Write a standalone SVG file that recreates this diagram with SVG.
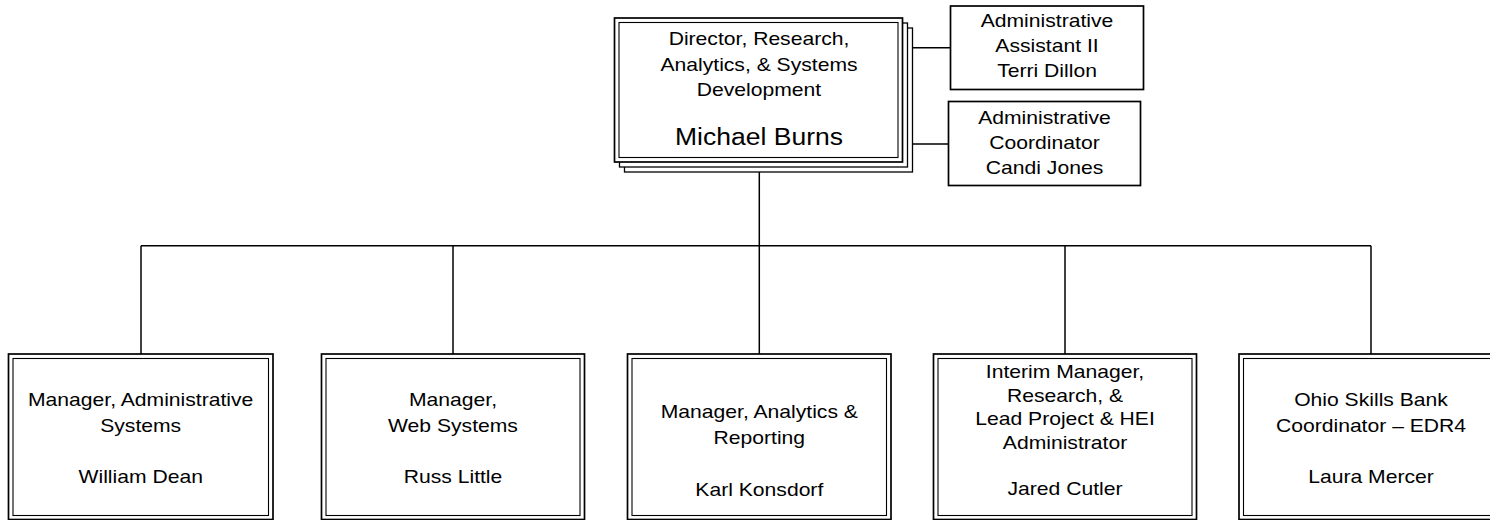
<svg xmlns="http://www.w3.org/2000/svg" width="1490" height="520" viewBox="0 0 1490 520">
<style>
.bg{fill:#fff}
.ln{fill:none;stroke:#000;stroke-width:1.5}
.lni{fill:none;stroke:#000;stroke-width:1.1}
.box{fill:#fff;stroke:#000;stroke-width:1.7}
.sh{fill:#fff;stroke:#000;stroke-width:1.3}
text{font-family:"Liberation Sans",Arial,sans-serif;fill:#000;text-anchor:middle}
.s{font-size:18.7px}
.l{font-size:24.1px}
</style>
<rect class="bg" x="0" y="0" width="1490" height="520"/>
<g id="connectors">
<line class="ln" x1="759.3" y1="172" x2="759.3" y2="245.7"/>
<line class="ln" x1="141" y1="245.7" x2="1371" y2="245.7"/>
<line class="ln" x1="141" y1="245.7" x2="141" y2="354"/>
<line class="ln" x1="453" y1="245.7" x2="453" y2="354"/>
<line class="ln" x1="759.3" y1="245.7" x2="759.3" y2="354"/>
<line class="ln" x1="1065" y1="245.7" x2="1065" y2="354"/>
<line class="ln" x1="1371" y1="245.7" x2="1371" y2="354"/>
<line class="ln" x1="908" y1="47.7" x2="950.5" y2="47.7"/>
<polyline class="ln" points="905,137 905,144 948.5,144"/>
</g>
<g id="director">
<rect class="sh" x="624.5" y="28" width="288" height="144"/>
<rect class="sh" x="619.5" y="23" width="288" height="144"/>
<rect class="box" x="614.5" y="18" width="288" height="144"/>
<rect class="lni" x="619" y="22.5" width="279" height="135"/>
<text class="s" transform="translate(759 45) scale(1.13 1)">Director, Research,</text>
<text class="s" transform="translate(759 70.5) scale(1.13 1)">Analytics, &amp; Systems</text>
<text class="s" transform="translate(759 95.5) scale(1.13 1)">Development</text>
<text class="l" transform="translate(759 145) scale(1.1 1)">Michael Burns</text>
</g>
<g id="admin-assistant">
<rect class="box" x="950.5" y="6" width="193" height="83.5"/>
<text class="s" transform="translate(1047 27) scale(1.13 1)">Administrative</text>
<text class="s" transform="translate(1047 52) scale(1.13 1)">Assistant II</text>
<text class="s" transform="translate(1047 77) scale(1.13 1)">Terri Dillon</text>
</g>
<g id="admin-coordinator">
<rect class="box" x="948.5" y="101.5" width="192" height="84"/>
<text class="s" transform="translate(1044.5 124) scale(1.13 1)">Administrative</text>
<text class="s" transform="translate(1044.5 149) scale(1.13 1)">Coordinator</text>
<text class="s" transform="translate(1044.5 174) scale(1.13 1)">Candi Jones</text>
</g>
<g id="admin-systems">
<rect class="box" x="8.5" y="354" width="264.5" height="165.5"/>
<rect class="lni" x="13" y="358.5" width="255.5" height="157"/>
<text class="s" transform="translate(140.7 406) scale(1.13 1)">Manager, Administrative</text>
<text class="s" transform="translate(140.7 431.5) scale(1.13 1)">Systems</text>
<text class="s" transform="translate(140.7 483) scale(1.13 1)">William Dean</text>
</g>
<g id="web-systems">
<rect class="box" x="321.5" y="354" width="263" height="165.5"/>
<rect class="lni" x="326" y="358.5" width="254" height="157"/>
<text class="s" transform="translate(453 406) scale(1.13 1)">Manager,</text>
<text class="s" transform="translate(453 431.5) scale(1.13 1)">Web Systems</text>
<text class="s" transform="translate(453 483) scale(1.13 1)">Russ Little</text>
</g>
<g id="analytics">
<rect class="box" x="627.5" y="354" width="263.5" height="165.5"/>
<rect class="lni" x="632" y="358.5" width="254.5" height="157"/>
<text class="s" transform="translate(759.3 418) scale(1.13 1)">Manager, Analytics &amp;</text>
<text class="s" transform="translate(759.3 443.5) scale(1.13 1)">Reporting</text>
<text class="s" transform="translate(759.3 496) scale(1.13 1)">Karl Konsdorf</text>
</g>
<g id="research">
<rect class="box" x="933.5" y="354" width="263" height="165.5"/>
<rect class="lni" x="938" y="358.5" width="254" height="157"/>
<text class="s" transform="translate(1065 378) scale(1.13 1)">Interim Manager,</text>
<text class="s" transform="translate(1065 401.5) scale(1.13 1)">Research, &amp;</text>
<text class="s" transform="translate(1065 425) scale(1.13 1)">Lead Project &amp; HEI</text>
<text class="s" transform="translate(1065 448.5) scale(1.13 1)">Administrator</text>
<text class="s" transform="translate(1065 495) scale(1.13 1)">Jared Cutler</text>
</g>
<g id="skills-bank">
<rect class="box" x="1239" y="354" width="264" height="165.5"/>
<rect class="lni" x="1243.5" y="358.5" width="255" height="157"/>
<text class="s" transform="translate(1371 406) scale(1.13 1)">Ohio Skills Bank</text>
<text class="s" transform="translate(1371 431.5) scale(1.13 1)">Coordinator – EDR4</text>
<text class="s" transform="translate(1371 483) scale(1.13 1)">Laura Mercer</text>
</g>
</svg>
